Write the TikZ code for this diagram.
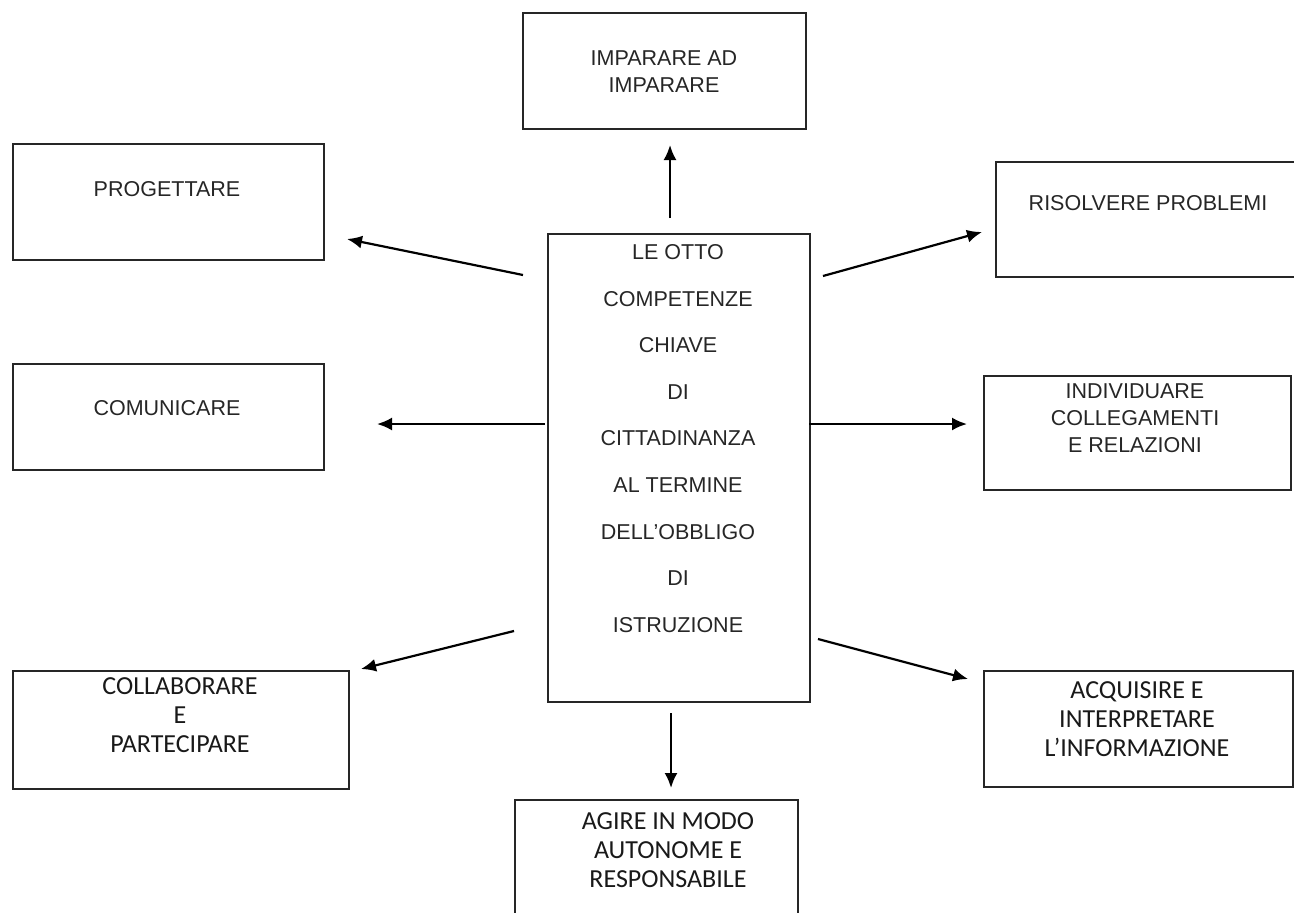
\documentclass[tikz,border=0pt]{standalone}
\usepackage{fontspec}
\setmainfont{Liberation Sans}
\newfontfamily\calfont{Carlito}
\usetikzlibrary{arrows.meta}
\begin{document}
\begin{tikzpicture}[x=1pt,y=-1pt,
  box/.style={draw=black!85, line width=1.6pt, anchor=north west, inner sep=0pt},
  txt/.style={align=center, inner sep=0pt, text=black!85, font=\fontsize{21.5}{27}\selectfont},
  ctxt/.style={align=center, inner sep=0pt, text=black!90, font=\calfont\fontsize{26}{29}\selectfont},
  arr/.style={line width=2.2pt, -{Latex[length=15pt,width=13pt]}}]
\useasboundingbox (0,0) rectangle (1294,913);
\clip (0,0) rectangle (1294,913);
% boxes
\node[box, minimum width=283pt, minimum height=116pt] (top) at (522,12) {};
\node[box, minimum width=311pt, minimum height=116pt] (prog) at (12,143) {};
\node[box, minimum width=310pt, minimum height=115pt] (ris) at (995,161) {};
\node[box, minimum width=262pt, minimum height=468pt] (cen) at (547,233) {};
\node[box, minimum width=311pt, minimum height=106pt] (com) at (12,363) {};
\node[box, minimum width=307pt, minimum height=114pt] (ind) at (983,375) {};
\node[box, minimum width=336pt, minimum height=118pt] (col) at (12,670) {};
\node[box, minimum width=309pt, minimum height=116pt] (acq) at (983,670) {};
\node[box, minimum width=283pt, minimum height=130pt] (agi) at (514,799) {};
% texts
\node[txt] (top-t) at (664,72) {IMPARARE AD\\IMPARARE};
\node[txt] (prog-t) at (167,189) {PROGETTARE};
\node[txt] (ris-t) at (1148,203) {RISOLVERE PROBLEMI};
\node[txt] (com-t) at (167,408) {COMUNICARE};
\node[txt] (ind-t) at (1135,418) {INDIVIDUARE\\COLLEGAMENTI\\E RELAZIONI};
\node[ctxt] (col-t) at (180,715) {COLLABORARE\\E\\PARTECIPARE};
\node[ctxt] (acq-t) at (1137,719) {ACQUISIRE E\\INTERPRETARE\\L’INFORMAZIONE};
\node[ctxt] (agi-t) at (668,850) {AGIRE IN MODO\\AUTONOME E\\RESPONSABILE};
\node[txt, font=\fontsize{21.5}{46.6}\selectfont] (cen-t) at (678,438.5)
  {LE OTTO\\COMPETENZE\\CHIAVE\\DI\\CITTADINANZA\\AL TERMINE\\DELL’OBBLIGO\\DI\\ISTRUZIONE};
% arrow end points
\coordinate (a1s) at (670,218); \coordinate (a1e) at (670,145);
\coordinate (a2s) at (523,275); \coordinate (a2e) at (347,239);
\coordinate (a3s) at (823,276); \coordinate (a3e) at (982,232);
\coordinate (a4s) at (545,424); \coordinate (a4e) at (377,424);
\coordinate (a5s) at (809,424); \coordinate (a5e) at (967,424);
\coordinate (a6s) at (514,631); \coordinate (a6e) at (361,669);
\coordinate (a7s) at (818,639); \coordinate (a7e) at (968,679);
\coordinate (a8s) at (671,713); \coordinate (a8e) at (671,788);
\draw[arr] (a1s) -- (a1e);
\draw[arr] (a2s) -- (a2e);
\draw[arr] (a3s) -- (a3e);
\draw[arr] (a4s) -- (a4e);
\draw[arr] (a5s) -- (a5e);
\draw[arr] (a6s) -- (a6e);
\draw[arr] (a7s) -- (a7e);
\draw[arr] (a8s) -- (a8e);
\end{tikzpicture}
\end{document}
